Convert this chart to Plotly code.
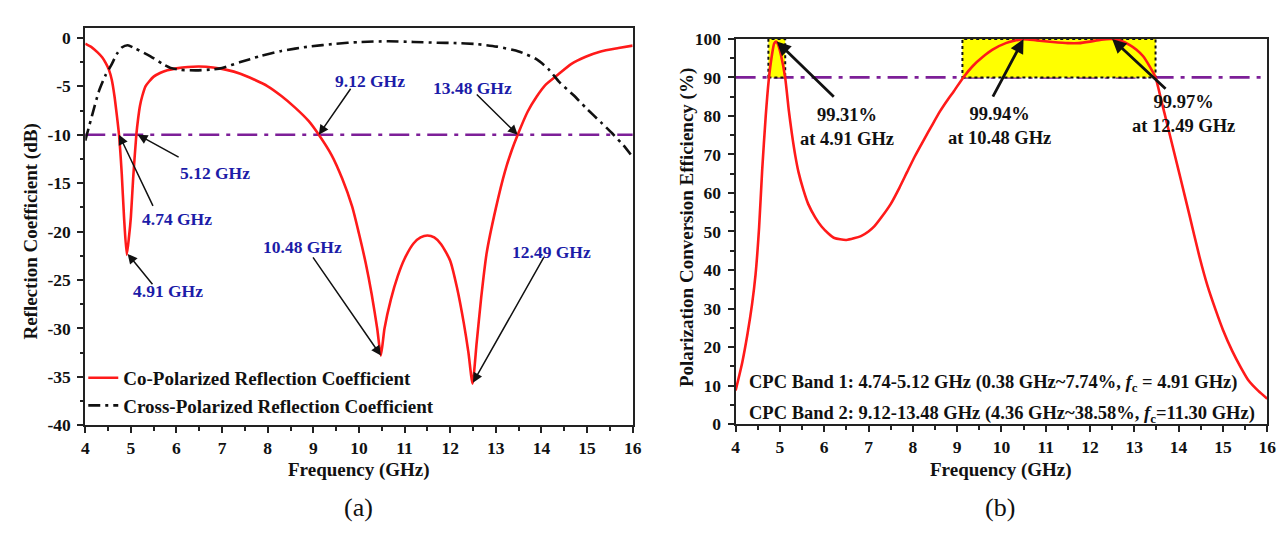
import plotly.graph_objects as go

# ---------------- data ----------------
# (a) co-polarized reflection coefficient (dB)
co_freq = [4.0, 4.15, 4.27, 4.37, 4.45, 4.52, 4.58, 4.64, 4.69, 4.74, 4.8, 4.85, 4.91, 4.96, 5.0,
           5.05, 5.12, 5.16, 5.2, 5.25, 5.32, 5.4, 5.5, 5.65, 5.8, 6.0, 6.25, 6.5, 6.8, 7.1,
           7.4, 7.7, 8.0, 8.3, 8.6, 8.9, 9.12, 9.4, 9.63, 9.85, 10.0, 10.15, 10.28, 10.4, 10.48,
           10.56, 10.7, 10.85, 11.0, 11.2, 11.35, 11.5, 11.65, 11.8, 12.0, 12.15, 12.3, 12.4,
           12.49, 12.58, 12.68, 12.8, 13.0, 13.2, 13.35, 13.48, 13.7, 13.89, 14.1, 14.36, 14.65,
           14.97, 15.3, 15.69, 16.0]
co_db = [-0.6, -1.0, -1.5, -2.0, -2.6, -3.3, -4.3, -6.0, -7.9, -10.0, -14.0, -18.5, -22.4, -20.5, -18.5,
         -14.5, -10.0, -8.3, -7.0, -6.0, -5.0, -4.5, -4.0, -3.6, -3.35, -3.15, -3.0, -2.95, -3.05, -3.3,
         -3.7, -4.3, -5.0, -6.0, -7.2, -8.6, -10.0, -12.1, -14.5, -17.4, -20.2, -23.3, -26.5, -30.0, -32.8,
         -30.0, -27.0, -24.6, -22.8, -21.2, -20.6, -20.4, -20.6, -21.3, -23.0, -25.8, -29.5, -32.5,
         -35.7, -31.5, -26.8, -22.2, -17.6, -13.8, -11.6, -10.0, -7.6, -6.1, -4.8, -3.8, -2.7,
         -1.95, -1.4, -1.05, -0.8]

# (a) cross-polarized reflection coefficient (dB)
cross_freq = [4.0, 4.15, 4.3, 4.45, 4.56, 4.7, 4.8, 4.93, 5.1, 5.43, 5.7, 5.87, 6.1, 6.44, 6.8,
              7.0, 7.4, 7.82, 8.3, 8.9, 9.5, 10.0, 10.64, 11.2, 11.72, 12.08, 12.6, 13.02, 13.5,
              13.89, 14.15, 14.4, 14.7, 14.97, 15.3, 15.56, 15.8, 16.0]
cross_db = [-10.6, -8.0, -5.5, -3.8, -2.9, -1.6, -1.0, -0.76, -1.1, -1.9, -2.7, -3.1, -3.3, -3.35, -3.25,
            -3.1, -2.5, -1.9, -1.35, -0.9, -0.6, -0.43, -0.35, -0.42, -0.5, -0.53, -0.65, -0.9, -1.4,
            -2.2, -3.2, -4.6, -5.9, -7.2, -8.7, -9.9, -11.1, -12.3]

# (b) polarization conversion efficiency (%)
pce_freq = [4.0, 4.15, 4.27, 4.37, 4.45, 4.53, 4.6, 4.68, 4.745, 4.82, 4.87, 4.91, 4.96, 5.02, 5.12,
            5.2, 5.27, 5.35, 5.42, 5.53, 5.64, 5.8, 5.94, 6.1, 6.23, 6.5, 6.83, 7.0, 7.13, 7.3,
            7.5, 7.7, 7.87, 8.05, 8.25, 8.45, 8.62, 8.8, 8.92, 9.14, 9.35, 9.59, 9.8, 10.1, 10.48,
            10.8, 11.16, 11.5, 11.75, 12.0, 12.25, 12.49, 12.7, 12.9, 13.05, 13.2, 13.35, 13.48,
            13.6, 13.75, 13.9, 14.05, 14.24, 14.47, 14.65, 14.84, 15.0, 15.21, 15.4, 15.58, 15.8, 16.0]
pce_val = [8.7, 16.0, 23.5, 31.0, 38.8, 51.0, 66.0, 80.0, 89.0, 95.8, 98.8, 99.31, 98.5, 96.0, 89.8,
           81.5, 75.4, 69.5, 65.4, 60.8, 57.1, 53.6, 51.3, 49.4, 48.3, 47.8, 48.8, 50.0, 51.3, 53.8,
           57.1, 61.4, 65.4, 69.6, 73.8, 77.9, 81.3, 84.4, 86.3, 90.0, 92.9, 95.4, 97.2, 98.9, 99.94,
           99.6, 99.2, 98.9, 98.9, 99.3, 99.8, 99.97, 99.5, 98.4, 97.2, 95.5, 92.8, 90.0,
           84.5, 77.5, 70.5, 63.5, 54.5, 43.5, 36.0, 29.5, 24.5, 19.0, 14.8, 11.3, 8.6, 6.6]

# ticks
x_ticks = list(range(4, 17))
ya_ticks = [0, -5, -10, -15, -20, -25, -30, -35, -40]
ya_labels = ["0", "-5", "-10", "-15", "-20", "-25", "-30", "-35", "-40"]
yb_ticks = list(range(0, 101, 10))

# reference levels and bands
ref_db = -10
ref_pce = 90
bands = [(4.74, 5.12), (9.12, 13.48)]

# annotation data: (label, text_x, text_y, tail_x, tail_y, head_x, head_y)
a_notes = [
    ("9.12 GHz", 10.24, -4.4, 9.84, -5.1, 9.12, -10.0),
    ("13.48 GHz", 12.49, -5.2, 12.55, -5.7, 13.48, -10.0),
    ("5.12 GHz", 6.84, -13.9, 6.08, -12.4, 5.15, -10.0),
    ("4.74 GHz", 6.01, -18.65, 5.5, -17.5, 4.74, -10.0),
    ("4.91 GHz", 5.81, -26.1, 5.5, -25.6, 4.93, -22.3),
    ("10.48 GHz", 8.76, -21.6, 8.97, -22.5, 10.48, -32.8),
    ("12.49 GHz", 14.23, -22.1, 14.07, -22.5, 12.5, -35.6),
]
b_notes = [
    ("99.31%<br>at 4.91 GHz", 6.51, 77.0, 6.25, 84.6, 4.93, 99.31),
    ("99.94%<br>at 10.48 GHz", 9.95, 77.3, 9.79, 84.6, 10.5, 99.94),
    ("99.97%<br>at 12.49 GHz", 14.1, 80.6, 13.74, 86.7, 12.5, 99.97),
]
band_texts = [
    "CPC Band 1: 4.74-5.12 GHz (0.38 GHz~7.74%, <i>f</i><sub>c</sub> = 4.91 GHz)",
    "CPC Band 2: 9.12-13.48 GHz (4.36 GHz~38.58%, <i>f</i><sub>c</sub>=11.30 GHz)",
]

# ---------------- figure ----------------
W, H = 1286, 539
FONT = "Liberation Serif"
RED = "#ff1a1a"
PURPLE = "#7d1f98"
BLUE = "#1c1ca8"
DARK = "#111111"

def px_x(p):
    return p / W

def px_y(p):
    return 1 - p / H

fig = go.Figure()
fig.add_trace(go.Scatter(x=co_freq, y=co_db, mode="lines", name="Co-Polarized Reflection Coefficient",
                         line=dict(color=RED, width=2.6, shape="spline", smoothing=0.6),
                         xaxis="x", yaxis="y"))
fig.add_trace(go.Scatter(x=cross_freq, y=cross_db, mode="lines", name="Cross-Polarized Reflection Coefficient",
                         line=dict(color=DARK, width=2.6, dash="12px,5px,3px,5px", shape="spline", smoothing=0.6),
                         xaxis="x", yaxis="y"))
fig.add_trace(go.Scatter(x=pce_freq, y=pce_val, mode="lines", showlegend=False,
                         line=dict(color=RED, width=2.6, shape="spline", smoothing=0.6),
                         xaxis="x2", yaxis="y2"))

shapes = []
for b0, b1 in bands:
    shapes.append(dict(type="rect", xref="x2", yref="y2", x0=b0, x1=b1, y0=ref_pce, y1=100,
                       fillcolor="#ffff00", line=dict(color=DARK, width=2, dash="dot"), layer="below"))
shapes.append(dict(type="line", xref="x domain", yref="y", x0=0, x1=1, y0=ref_db, y1=ref_db,
                   line=dict(color=PURPLE, width=2.6, dash="20px,7px,4px,7px"), layer="below"))
shapes.append(dict(type="line", xref="x2 domain", yref="y2", x0=0, x1=1, y0=ref_pce, y1=ref_pce,
                   line=dict(color=PURPLE, width=2.6, dash="20px,7px,4px,7px"), layer="below"))

annotations = []
for lab, tx, ty, ax_, ay_, hx, hy in a_notes:
    annotations.append(dict(xref="x", yref="y", x=tx, y=ty, text=lab, showarrow=False,
                            font=dict(family=FONT, size=17.5, color=BLUE, weight="bold")))
    annotations.append(dict(xref="x", yref="y", x=hx, y=hy, axref="x", ayref="y", ax=ax_, ay=ay_,
                            text="", showarrow=True, arrowhead=2, arrowsize=1.3, arrowwidth=1.5,
                            arrowcolor=DARK, standoff=0))
for lab, tx, ty, ax_, ay_, hx, hy in b_notes:
    annotations.append(dict(xref="x2", yref="y2", x=tx, y=ty, text=lab, showarrow=False,
                            font=dict(family=FONT, size=18.5, color=DARK, weight="bold")))
    annotations.append(dict(xref="x2", yref="y2", x=hx, y=hy, axref="x2", ayref="y2", ax=ax_, ay=ay_,
                            text="", showarrow=True, arrowhead=2, arrowsize=1.0, arrowwidth=2.8,
                            arrowcolor=DARK, standoff=0))
for i, t in enumerate(band_texts):
    annotations.append(dict(xref="paper", yref="paper", x=px_x(743), y=px_y([380, 411.5][i]),
                            xanchor="left", yanchor="middle", text=t, showarrow=False,
                            font=dict(family=FONT, size=18.5, color=DARK, weight="bold")))

# axis titles and panel labels
title_font = dict(family=FONT, size=19, color=DARK, weight="bold")
annotations += [
    dict(xref="paper", yref="paper", x=px_x(350.5), y=px_y(469), text="Frequency (GHz)", showarrow=False,
         font=title_font, xanchor="center", yanchor="middle"),
    dict(xref="paper", yref="paper", x=px_x(999.5), y=px_y(469), text="Frequency (GHz)", showarrow=False,
         font=title_font, xanchor="center", yanchor="middle"),
    dict(xref="paper", yref="paper", x=px_x(19), y=px_y(222), text="Reflection Coefficient (dB)",
         showarrow=False, textangle=-90, font=title_font, xanchor="center", yanchor="middle"),
    dict(xref="paper", yref="paper", x=px_x(682), y=px_y(218), text="Polarization Conversion Efficiency (%)",
         showarrow=False, textangle=-90, font=title_font, xanchor="center", yanchor="middle"),
    dict(xref="paper", yref="paper", x=px_x(350), y=px_y(508), text="(a)", showarrow=False,
         font=dict(family=FONT, size=26, color=DARK), xanchor="center", yanchor="middle"),
    dict(xref="paper", yref="paper", x=px_x(998), y=px_y(508), text="(b)", showarrow=False,
         font=dict(family=FONT, size=26, color=DARK), xanchor="center", yanchor="middle"),
]

tick_font = dict(family=FONT, size=17.5, color=DARK, weight="bold")
common = dict(showline=True, linewidth=2, linecolor="#222222", mirror=True, showgrid=False,
              zeroline=False, ticks="outside", ticklen=6, tickwidth=2, tickcolor="#222222",
              tickfont=tick_font)
minor_style = dict(ticklen=3.5, tickwidth=1.5, ticks="outside", tickcolor="#222222")

fig.update_layout(
    width=W, height=H, autosize=False,
    margin=dict(l=0, r=0, t=0, b=0),
    paper_bgcolor="white", plot_bgcolor="white",
    showlegend=True,
    legend=dict(x=px_x(72), y=px_y(354), xanchor="left", yanchor="top",
                bgcolor="rgba(0,0,0,0)", borderwidth=0, tracegroupgap=0,
                font=dict(family=FONT, size=19, color=DARK, weight="bold")),
    xaxis=dict(domain=[px_x(74), px_x(627)], range=[4, 16], tickvals=x_ticks, anchor="y",
               minor=dict(dtick=0.5, **minor_style), **common),
    yaxis=dict(domain=[px_y(423), px_y(10)], range=[-40, 1.06], tickvals=ya_ticks, ticktext=ya_labels,
               anchor="x", ticklabelstandoff=3, minor=dict(dtick=2.5, **minor_style), **common),
    xaxis2=dict(domain=[px_x(731), px_x(1268)], range=[4, 16], tickvals=x_ticks, anchor="y2",
                minor=dict(dtick=0.5, **minor_style), **common),
    yaxis2=dict(domain=[px_y(421.7), px_y(21.7)], range=[0, 100], tickvals=yb_ticks, anchor="x2",
                ticklabelstandoff=3, minor=dict(dtick=5, **minor_style), **common),
    shapes=shapes,
    annotations=annotations,
)

fig.write_html("out.html")
